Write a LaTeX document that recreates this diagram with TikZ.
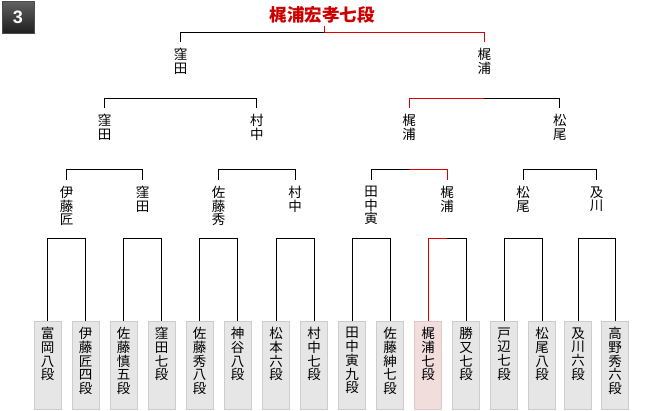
\documentclass[tikz,border=0pt]{standalone}
\usepackage{fontspec}
\newfontfamily\jp{Noto Sans CJK JP}
\newfontfamily\badgefont{Liberation Sans}
\definecolor{winred}{RGB}{222,0,0}
\definecolor{titlered}{RGB}{204,0,0}
\definecolor{boxfill}{RGB}{230,230,230}
\definecolor{boxline}{RGB}{204,204,204}
\definecolor{winfill}{RGB}{242,221,221}
\definecolor{winline}{RGB}{222,200,200}
\begin{document}
\begin{tikzpicture}[x=1pt,y=-1pt,line width=1pt,
  lbl/.style={anchor=north,inner xsep=0pt,inner ysep=6pt,align=center,font=\jp\fontsize{13.5}{13.5}\selectfont},
  leafbox/.style={draw=boxline,fill=boxfill,minimum width=27pt,minimum height=88pt,inner sep=0pt},
  winbox/.style={leafbox,draw=winline,fill=winfill},
  leaftext/.style={anchor=north,inner sep=0pt,align=center,font=\jp\fontsize{13.5}{13.7}\selectfont},
  wire/.style={draw=black,line width=1pt},
  winwire/.style={draw=winred,line width=1pt},
  badge/.style={draw=black!70,top color=black!62,bottom color=black!88,minimum size=32pt,inner sep=0pt,text=white,font=\badgefont\bfseries\fontsize{18}{18}\selectfont},
  titletext/.style={anchor=south,inner xsep=0pt,inner ysep=2pt,text=titlered,font=\jp\bfseries\fontsize{17.5}{17.5}\selectfont}]
\useasboundingbox (0,0) rectangle (660,410);

\node[badge] (badge) at (18,17) {3};

% leaves
\foreach \i/\x/\s/\t in {
  1/47.5/leafbox/{富\\岡\\八\\段},
  2/85.5/leafbox/{伊\\藤\\匠\\四\\段},
  3/123.5/leafbox/{佐\\藤\\慎\\五\\段},
  4/161.5/leafbox/{窪\\田\\七\\段},
  5/199.5/leafbox/{佐\\藤\\秀\\八\\段},
  6/237.5/leafbox/{神\\谷\\八\\段},
  7/276/leafbox/{松\\本\\六\\段},
  8/314/leafbox/{村\\中\\七\\段},
  9/352/leafbox/{田\\中\\寅\\九\\段},
  10/390/leafbox/{佐\\藤\\紳\\七\\段},
  11/428/winbox/{梶\\浦\\七\\段},
  12/466/leafbox/{勝\\又\\七\\段},
  13/504/leafbox/{戸\\辺\\七\\段},
  14/542/leafbox/{松\\尾\\八\\段},
  15/578/leafbox/{及\\川\\六\\段},
  16/615/leafbox/{高\\野\\秀\\六\\段}} {
  \node[\s] (b\i) at (\x,365) {};
  \node[leaftext] (t\i) at ([yshift=-6.5pt]b\i.north) {\t};
}

% round-3 labels and first brackets
\foreach \k/\x/\t in {
  1/66.5/{伊\\藤\\匠}, 2/142.5/{窪\\田}, 3/218.5/{佐\\藤\\秀}, 4/295/{村\\中},
  5/371/{田\\中\\寅}, 6/447/{梶\\浦}, 7/523/{松\\尾}, 8/596.5/{及\\川}} {
  \coordinate (q\k) at (\x,238.3);
  \node[lbl] (r\k) at (\x,180) {\t};
}
\foreach \k/\a/\b in {1/1/2,2/3/4,3/5/6,4/7/8,5/9/10,7/13/14,8/15/16} {
  \draw[wire] (q\k) -| (b\a.north);
  \draw[wire] (q\k) -| (b\b.north);
}
\draw[winwire] (q6) -| (b11.north);
\draw[wire] (q6) -| (b12.north);

% round-2 labels and brackets
\foreach \k/\x/\t in {1/104.5/{窪\\田}, 2/256.75/{村\\中}, 3/409/{梶\\浦}, 4/559.75/{松\\尾}} {
  \coordinate (p\k) at (\x,169.3);
  \node[lbl] (s\k) at (\x,108) {\t};
}
\draw[wire] (p1) -| (r1.north);
\draw[wire] (p1) -| (r2.north);
\draw[wire] (p2) -| (r3.north);
\draw[wire] (p2) -| (r4.north);
\draw[wire] (p3) -| (r5.north);
\draw[winwire] (p3) -| (r6.north);
\draw[wire] (p4) -| (r7.north);
\draw[wire] (p4) -| (r8.north);

% round-1 labels and brackets
\foreach \k/\x/\t in {1/180.6/{窪\\田}, 2/484.4/{梶\\浦}} {
  \coordinate (o\k) at (\x,98.3);
  \node[lbl] (u\k) at (\x,42) {\t};
}
\draw[wire] (o1) -| (s1.north);
\draw[wire] (o1) -| (s2.north);
\draw[winwire] (o2) -| (s3.north);
\draw[wire] (o2) -| (s4.north);

% final
\node[titletext] (title) at (322,26) {梶浦宏孝七段};
\coordinate (top) at (324,32.3);
\draw[wire] (top) -| (u1.north);
\draw[winwire] ([xshift=2pt]title.south) -- (top) -| (u2.north);
\end{tikzpicture}
\end{document}
